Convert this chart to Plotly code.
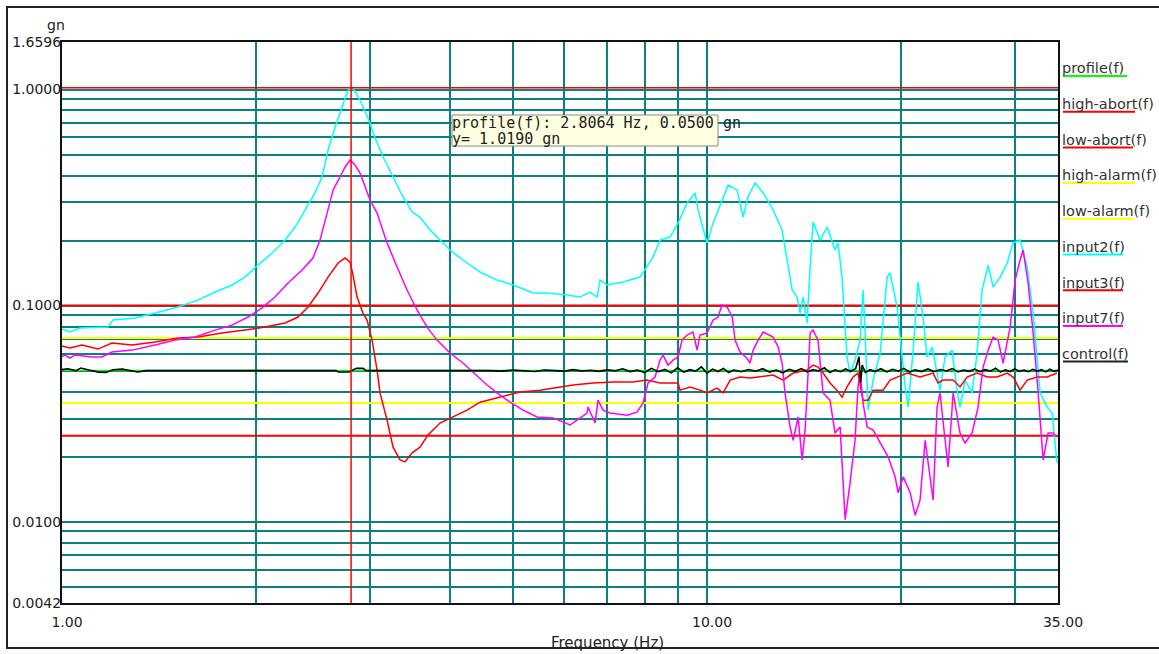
import math
import plotly.graph_objects as go

# ---------------- data ----------------
input2_f = [1.000,1.029,1.066,1.145,1.178,1.200,1.298,1.394,1.513,1.625,
            1.727,1.835,1.921,2.013,2.117,2.217,2.298,2.381,2.467,2.530,
            2.585,2.651,2.718,2.776,2.826,2.897,3.003,3.035,3.146,3.260,
            3.366,3.489,3.589,3.720,3.855,3.995,4.184,4.447,4.726,5.003,
            5.374,5.649,6.067,6.356,6.586,6.753,6.825,6.998,7.409,7.872,
            8.246,8.455,8.762,9.016,9.311,9.581,9.683,10.00,10.22,10.59,
            10.78,11.13,11.37,11.57,11.87,12.22,12.66,13.07,13.31,13.55,
            13.79,13.94,14.09,14.29,14.45,14.60,14.97,15.35,15.79,15.96,
            16.19,16.48,16.66,16.96,17.27,17.45,17.58,17.77,18.09,18.55,
            19.02,19.22,19.71,20.06,20.28,20.50,20.87,21.24,21.62,21.93,
            22.33,22.73,22.97,23.39,23.98,24.41,24.67,25.12,25.75,26.22,
            26.69,27.28,27.76,28.47,29.19,29.82,30.57,31.35,32.03,32.84,
            33.67,34.27,34.88]
input2_v = [0.0779,0.0754,0.0787,0.0795,0.0795,0.0857,0.0876,0.0923,0.0985,0.1060,
            0.1155,0.1245,0.1355,0.154,0.175,0.201,0.231,0.277,0.332,0.394,
            0.525,0.671,0.830,0.995,1.016,0.894,0.700,0.629,0.487,0.394,
            0.325,0.271,0.257,0.224,0.201,0.1807,0.1625,0.143,0.1312,0.1245,
            0.1143,0.1143,0.1119,0.1095,0.1155,0.1095,0.1312,0.1245,0.1285,0.1355,
            0.1677,0.201,0.2076,0.241,0.298,0.332,0.277,0.195,0.241,0.318,
            0.361,0.343,0.257,0.318,0.369,0.332,0.277,0.224,0.1625,0.1180,
            0.1095,0.0923,0.1095,0.0830,0.1508,0.2435,0.201,0.231,0.1807,0.195,
            0.1355,0.0578,0.0487,0.0559,0.0692,0.1180,0.0746,0.0328,0.0452,0.0603,
            0.1355,0.1415,0.0985,0.0559,0.0420,0.0339,0.0622,0.1285,0.0885,0.0578,
            0.0643,0.0487,0.0406,0.0578,0.0622,0.0406,0.0339,0.0452,0.0394,0.0603,
            0.1180,0.154,0.1218,0.1355,0.1574,0.195,0.201,0.1508,0.0923,0.0394,
            0.0339,0.0318,0.0187]

input7_f = [1.000,
            1.011,1.029,1.047,1.113,1.153,1.195,1.284,1.394,1.497,1.608,
            1.727,1.835,1.942,2.042,2.139,2.241,2.356,2.449,2.512,2.576,
            2.632,2.698,2.747,2.796,2.846,2.897,3.003,3.079,3.191,3.307,
            3.427,3.552,3.680,3.814,3.995,4.184,4.337,4.560,4.726,4.950,
            5.185,5.451,5.771,5.981,6.132,6.287,6.516,6.539,6.633,6.705,
            6.776,6.898,7.072,7.516,7.788,7.957,8.100,8.305,8.455,8.546,
            8.700,8.857,9.016,9.146,9.311,9.513,9.650,9.752,10.00,10.22,
            10.40,10.55,10.74,10.94,11.05,11.25,11.53,11.66,11.79,12.00,
            12.22,12.66,12.89,13.07,13.21,13.45,13.60,13.84,14.04,14.19,
            14.45,14.60,14.86,15.13,15.51,15.79,16.08,16.37,16.66,16.96,
            17.14,17.27,17.45,17.71,18.09,18.55,19.09,19.57,19.78,20.14,
            20.65,21.02,21.39,21.78,22.01,22.41,22.73,22.97,23.39,23.64,
            24.07,24.67,25.12,25.75,26.31,26.79,27.28,27.76,28.26,28.77,
            29.50,30.03,30.57,30.90,31.46,32.03,32.61,33.19,33.79,34.39,
            34.88]
input7_v = [0.0580,
            0.0590,0.0571,0.0590,0.0578,0.0578,0.0609,0.0622,0.0657,0.0692,0.0715,
            0.0770,0.0812,0.0885,0.0975,0.1095,0.1272,0.146,0.166,0.201,0.268,
            0.343,0.394,0.438,0.472,0.447,0.411,0.308,0.268,0.195,0.1508,
            0.1180,0.0954,0.0795,0.0692,0.0603,0.0542,0.0492,0.0429,0.0394,0.0357,
            0.0328,0.0305,0.0302,0.0289,0.0280,0.0295,0.0318,0.0339,0.0305,0.0286,
            0.0365,0.0328,0.0318,0.0311,0.0321,0.0354,0.0438,0.0467,0.0559,0.0590,
            0.0530,0.0559,0.0578,0.0692,0.0730,0.0754,0.0622,0.0730,0.0746,0.0857,
            0.0885,0.1006,0.0985,0.0885,0.0692,0.0609,0.0571,0.0542,0.0622,0.0692,
            0.0754,0.0715,0.0643,0.0542,0.0394,0.0274,0.0238,0.0305,0.0193,0.0265,
            0.0746,0.0770,0.0692,0.0394,0.0365,0.0257,0.0274,0.0102,0.0151,0.0238,
            0.0420,0.0487,0.0354,0.0274,0.0265,0.0231,0.0199,0.0161,0.0136,0.0161,
            0.0136,0.0107,0.0126,0.0238,0.0187,0.0126,0.0339,0.0394,0.0238,0.0179,
            0.0394,0.0257,0.0231,0.0257,0.0339,0.0519,0.0622,0.0715,0.0692,0.0542,
            0.0795,0.1312,0.1625,0.1807,0.1272,0.0746,0.0394,0.0193,0.0257,0.0257,
            0.0246]

input3_f = [1.000,1.011,1.029,1.074,1.137,1.195,1.284,1.394,1.513,1.625,
            1.770,1.921,2.064,2.217,2.322,2.407,2.494,2.585,2.679,2.747,
            2.796,2.826,2.867,2.928,2.971,3.025,3.079,3.112,3.191,3.260,
            3.342,3.402,3.489,3.589,3.693,3.855,4.038,4.245,4.447,4.777,
            5.130,5.510,5.771,6.198,6.657,7.148,7.678,8.071,8.455,9.016,
            9.081,9.410,9.752,10.00,10.36,10.59,10.86,11.25,11.66,12.09,
            12.66,13.12,13.60,14.29,14.60,14.86,15.13,15.51,15.90,16.19,
            16.48,16.84,17.14,17.45,17.77,18.09,18.75,19.22,19.71,20.43,
            21.39,22.41,22.81,23.22,24.07,24.67,25.30,26.22,27.18,28.16,
            29.19,29.82,30.57,31.35,32.49,33.67,34.88]
input3_v = [0.0650,0.0643,0.0636,0.0657,0.0629,0.0671,0.0657,0.0678,0.0707,0.0715,
            0.0746,0.0770,0.0795,0.0830,0.0885,0.0985,0.1143,0.1355,0.1574,0.166,
            0.159,0.1384,0.1095,0.0923,0.0857,0.0692,0.0503,0.0394,0.0295,0.0221,
            0.0193,0.0189,0.0208,0.0221,0.0252,0.0286,0.0305,0.0328,0.0357,0.0377,
            0.0398,0.0406,0.0415,0.0429,0.0438,0.0443,0.0443,0.0452,0.0438,0.0438,
            0.0406,0.0420,0.0406,0.0394,0.0415,0.0394,0.0452,0.0467,0.0462,0.0467,
            0.0477,0.0452,0.0487,0.0503,0.0530,0.0519,0.0487,0.0438,0.0406,0.0377,
            0.0420,0.0467,0.0487,0.0365,0.0365,0.0406,0.0406,0.0452,0.0467,0.0487,
            0.0467,0.0487,0.0438,0.0452,0.0452,0.0420,0.0467,0.0487,0.0467,0.0467,
            0.0487,0.0467,0.0406,0.0452,0.0467,0.0467,0.0487]

control_f = [1.00,1.02,1.05,1.07,1.10,1.14,1.17,1.20,1.24,1.28,1.31,1.35,
             2.66,2.68,2.79,2.81,2.86,2.93,2.96,
             4.60,4.80,5.00,5.20,5.40,5.60,5.80,6.00,6.20,6.40,6.60,6.80,
             7.00,7.20,7.40,7.60,7.80,8.00,8.20,8.40,8.60,8.80,9.00,9.20,
             9.40,9.60,9.80,10.0,10.2,10.4,10.6,10.8,11.0,11.3,11.6,11.9,
             12.2,12.5,12.8,13.1,13.4,13.7,14.0,14.3,14.6,14.9,15.2,15.5,
             15.8,16.1,16.4,16.7,17.0,17.2,17.3,17.4,17.6,17.9,18.2,18.6,
             19.0,19.4,19.8,20.2,20.6,21.0,21.5,22.0,22.5,23.0,23.5,24.0,
             24.5,25.0,25.5,26.0,26.5,27.0,27.5,28.0,28.5,29.0,29.5,30.0,
             30.5,31.0,31.5,32.0,32.5,33.0,33.5,34.0,34.5,35.0]
control_v = [0.0505,0.0510,0.0500,0.0514,0.0503,0.0492,0.0490,0.0505,0.0508,0.0498,0.0493,0.0500,
             0.0500,0.0493,0.0493,0.0500,0.0512,0.0512,0.0500,
             0.0500,0.0497,0.0503,0.0500,0.0495,0.0503,0.0500,0.0497,0.0505,0.0498,0.0502,0.0496,
             0.0504,0.0499,0.0510,0.0495,0.0503,0.0490,0.0512,0.0494,0.0506,0.0488,0.0515,0.0492,
             0.0505,0.0497,0.0520,0.0487,0.0508,0.0495,0.0512,0.0490,0.0503,0.0494,0.0506,0.0497,
             0.0510,0.0492,0.0503,0.0488,0.0507,0.0496,0.0511,0.0493,0.0505,0.0498,0.0515,0.0490,
             0.0504,0.0494,0.0509,0.0496,0.0512,0.0580,0.0440,0.0530,0.0490,0.0505,0.0495,0.0510,
             0.0493,0.0507,0.0497,0.0512,0.0492,0.0504,0.0495,0.0509,0.0494,0.0506,0.0498,0.0511,
             0.0493,0.0503,0.0496,0.0508,0.0494,0.0505,0.0497,0.0513,0.0492,0.0504,0.0495,0.0509,
             0.0496,0.0503,0.0494,0.0507,0.0497,0.0505,0.0493,0.0508,0.0496,0.0502]

profile_f = [1.0, 35.0]
profile_v = [0.05, 0.05]

high_abort = 0.1
low_abort = 0.025
high_alarm = 0.0708
low_alarm = 0.0354
limit_f = [1.0, 35.0]

cursor_f = 2.8064
cursor_y = 1.0190

x_range = [1.0, 35.0]
y_range = [0.0042, 1.6596]
x_tickvals = [1.0, 10.0, 35.0]
x_ticktext = ["1.00", "10.00", "35.00"]
x_minor = [2, 3, 4, 5, 6, 7, 8, 9, 20, 30]
y_tickvals = [0.0042, 0.01, 0.1, 1.0, 1.6596]
y_ticktext = ["0.0042", "0.0100", "0.1000", "1.0000", "1.6596"]
y_minor = [0.005, 0.006, 0.007, 0.008, 0.009,
           0.02, 0.03, 0.04, 0.05, 0.06, 0.07, 0.08, 0.09,
           0.2, 0.3, 0.4, 0.5, 0.6, 0.7, 0.8, 0.9]

legend_names = ["profile(f)", "high-abort(f)", "low-abort(f)", "high-alarm(f)",
                "low-alarm(f)", "input2(f)", "input3(f)", "input7(f)", "control(f)"]

# ---------------- styling ----------------
W, H = 1159, 654
L, R, T, B = 62, 1058, 42, 603
TEAL = "#0b8080"
RED = "#ff0000"
YELLOW = "#ffff00"
CYAN = "#00ffff"
MAGENTA = "#ff00ff"
GREEN = "#00ff00"
BLACK = "#000000"
FONT = "DejaVu Sans"
legend_colors = [GREEN, RED, RED, YELLOW, YELLOW, CYAN, RED, MAGENTA, "#222222"]
underline_end_px = [1127, 1135, 1133, 1135, 1133, 1123, 1123, 1123, 1128]


def px(xp):
    return (xp - L) / (R - L)


def py(yp):
    return (B - yp) / (B - T)


fig = go.Figure()


def add_line(xs, ys, color, width=1.5):
    fig.add_trace(go.Scatter(x=xs, y=ys, mode="lines",
                             line=dict(color=color, width=width),
                             hoverinfo="skip", showlegend=False))


add_line(profile_f, profile_v, GREEN, 1.5)
add_line(limit_f, [high_abort] * 2, RED, 2)
add_line(limit_f, [low_abort] * 2, RED, 2)
add_line(limit_f, [high_alarm] * 2, YELLOW, 2)
add_line(limit_f, [low_alarm] * 2, YELLOW, 2)
add_line(input2_f, input2_v, CYAN)
add_line(input3_f, input3_v, RED)
add_line(input7_f, input7_v, MAGENTA)
add_line(control_f, control_v, BLACK, 1.6)

shapes = []
# cursor lines
shapes.append(dict(type="line", xref="x", yref="paper", x0=cursor_f, x1=cursor_f,
                   y0=0, y1=1, line=dict(color=RED, width=1.5), layer="above"))
shapes.append(dict(type="line", xref="paper", yref="y", x0=0, x1=1,
                   y0=cursor_y, y1=cursor_y, line=dict(color=RED, width=1.5), layer="above"))
# outer frame
shapes.append(dict(type="rect", xref="paper", yref="paper",
                   x0=px(7), x1=px(1175), y0=py(648), y1=py(7),
                   line=dict(color="#222222", width=2), fillcolor="rgba(0,0,0,0)",
                   layer="above"))
# tooltip box
shapes.append(dict(type="rect", xref="paper", yref="paper",
                   x0=px(452), x1=px(718), y0=py(146), y1=py(115),
                   line=dict(color="#8a8a8a", width=1), fillcolor="#ffffe1",
                   layer="above"))

annotations = []
# legend texts + underlines
for i, (name, col, xend) in enumerate(zip(legend_names, legend_colors, underline_end_px)):
    yc = 68.3 + i * 35.7
    annotations.append(dict(text=name, xref="paper", yref="paper",
                            x=px(1060), y=py(yc), xanchor="left", yanchor="middle",
                            showarrow=False,
                            font=dict(family=FONT, size=14.5, color="#333333")))
    shapes.append(dict(type="line", xref="paper", yref="paper",
                       x0=px(1063), x1=px(xend), y0=py(yc + 7.7), y1=py(yc + 7.7),
                       line=dict(color=col, width=2)))

annotations.append(dict(text="gn", xref="paper", yref="paper", x=px(56), y=py(25),
                        xanchor="center", yanchor="middle", showarrow=False,
                        font=dict(family=FONT, size=14, color="#222222")))
annotations.append(dict(text="Frequency (Hz)", xref="paper", yref="paper", x=px(607), y=py(643),
                        xanchor="center", yanchor="middle", showarrow=False,
                        font=dict(family=FONT, size=15, color="#222222")))
annotations.append(dict(text="profile(f): %.4f Hz, %.4f gn" % (cursor_f, profile_v[0]),
                        xref="paper", yref="paper", x=px(450), y=py(123),
                        xanchor="left", yanchor="middle", showarrow=False,
                        font=dict(family="DejaVu Sans Mono", size=15, color="#222222")))
annotations.append(dict(text="y= %.4f gn" % cursor_y,
                        xref="paper", yref="paper", x=px(450), y=py(139),
                        xanchor="left", yanchor="middle", showarrow=False,
                        font=dict(family="DejaVu Sans Mono", size=15, color="#222222")))

fig.update_layout(
    width=W, height=H,
    margin=dict(l=L, r=W - R, t=T, b=H - B, pad=0),
    paper_bgcolor="white", plot_bgcolor="white",
    showlegend=False,
    shapes=shapes, annotations=annotations,
    xaxis=dict(type="log", range=[math.log10(x_range[0]), math.log10(x_range[1])],
               automargin=False,
               tickmode="array", tickvals=x_tickvals, ticktext=x_ticktext,
               showgrid=True, gridcolor=TEAL, gridwidth=2,
               minor=dict(tickmode="array", tickvals=x_minor, showgrid=True,
                          gridcolor=TEAL, gridwidth=2, ticks=""),
               showline=True, linecolor="#111111", linewidth=2, mirror=True,
               ticks="", zeroline=False, ticklabelshift=5, ticklabelstandoff=5,
               tickfont=dict(family=FONT, size=14, color="#222222")),
    yaxis=dict(type="log", range=[math.log10(y_range[0]), math.log10(y_range[1])],
               automargin=False,
               tickmode="array", tickvals=y_tickvals, ticktext=y_ticktext,
               showgrid=True, gridcolor=TEAL, gridwidth=2,
               minor=dict(tickmode="array", tickvals=y_minor, showgrid=True,
                          gridcolor=TEAL, gridwidth=2, ticks=""),
               showline=True, linecolor="#111111", linewidth=2, mirror=True,
               ticks="", zeroline=False, ticklabelstandoff=-4,
               tickfont=dict(family=FONT, size=14, color="#222222")),
)

fig.write_html("out.html")
